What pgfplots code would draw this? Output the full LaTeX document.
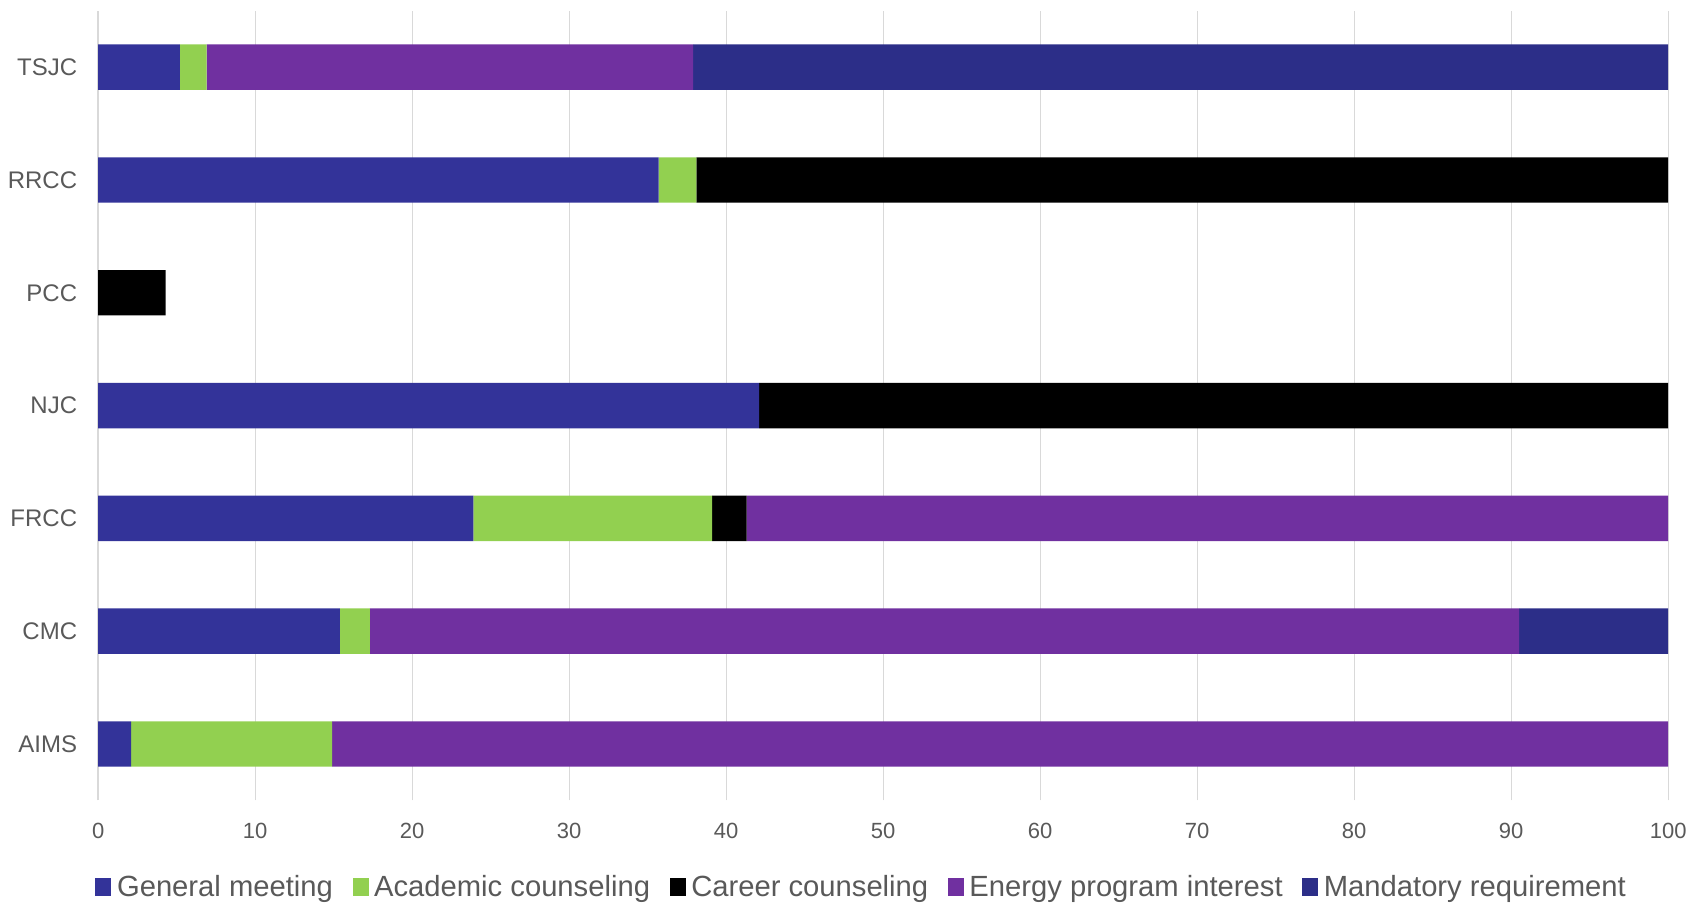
\documentclass[border=0pt]{standalone}
\usepackage{pgfplots}
\pgfplotsset{compat=1.18}
\usepackage{fontspec}
\setmainfont{Liberation Sans}
\definecolor{cGen}{HTML}{333399}
\definecolor{cAca}{HTML}{92D050}
\definecolor{cCar}{HTML}{000000}
\definecolor{cEne}{HTML}{7030A0}
\definecolor{cMan}{HTML}{2C2E88}
\definecolor{txt}{HTML}{595959}
\definecolor{grd}{HTML}{D9D9D9}
\begin{document}
\begin{tikzpicture}
\begin{axis}[
  name=ax,
  at={(0,0)}, anchor=south west,
  width=785pt, height=394.8pt, scale only axis,
  xbar stacked, bar width=22.7pt,
  xmin=0, xmax=100, ymin=-0.5, ymax=6.5,
  xtick={0,10,...,100},
  ytick={0,1,2,3,4,5,6},
  yticklabels={AIMS,CMC,FRCC,NJC,PCC,RRCC,TSJC},
  xmajorgrids, grid style={draw=grd, line width=0.7pt},
  axis line style={draw=none},
  major tick length=0pt,
  tick label style={text=txt},
  xticklabel style={font=\fontsize{11}{13}\selectfont, yshift=-8pt},
  yticklabel style={font=\fontsize{12}{14}\selectfont, xshift=-7pt},
  /pgf/number format/assume math mode=true,
  legend columns=5,
  legend style={draw=none, fill=none, at={(axis description cs:-0.002,-0.1097)}, anchor=west,
    font=\fontsize{14.6}{16}\selectfont, text=txt, inner sep=0pt,
    /tikz/every odd column/.append style={column sep=0.8pt},
    /tikz/every even column/.append style={column sep=7.8pt}},
  legend image code/.code={\fill[#1] (0pt,-4.3pt) rectangle (8pt,4.3pt);},
]
\addplot[fill=cGen, draw=none] coordinates {(2.1,0) (15.4,1) (23.9,2) (42.1,3) (0,4) (35.7,5) (5.2,6)};
\addplot[fill=cAca, draw=none] coordinates {(12.8,0) (1.9,1) (15.2,2) (0,3) (0,4) (2.4,5) (1.7,6)};
\addplot[fill=cCar, draw=none] coordinates {(0,0) (0,1) (2.2,2) (57.9,3) (4.3,4) (61.9,5) (0,6)};
\addplot[fill=cEne, draw=none] coordinates {(85.1,0) (73.2,1) (58.7,2) (0,3) (0,4) (0,5) (31.0,6)};
\addplot[fill=cMan, draw=none] coordinates {(0,0) (9.5,1) (0,2) (0,3) (0,4) (0,5) (62.1,6)};
\legend{General meeting, Academic counseling, Career counseling, Energy program interest, Mandatory requirement}
\end{axis}
\pgfresetboundingbox
\path[use as bounding box] (-49.1pt,-51.3pt) rectangle (798.9pt,400.2pt);
\end{tikzpicture}
\end{document}
